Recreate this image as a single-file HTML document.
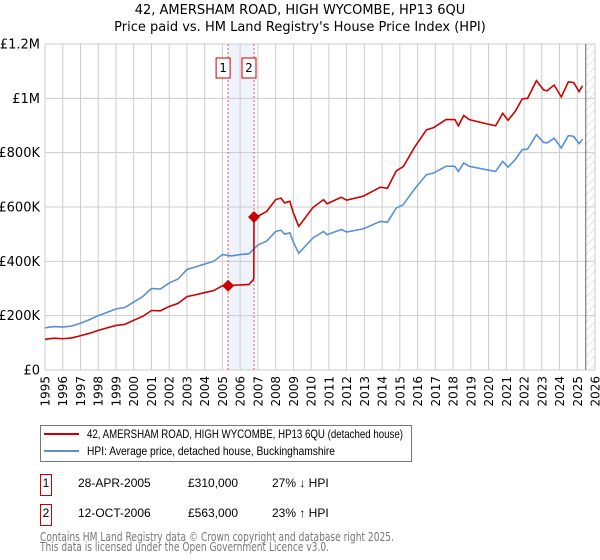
<!DOCTYPE html>
<html><head><meta charset="utf-8"><style>
body{margin:0;background:#fff;font-family:"Liberation Sans","DejaVu Sans",sans-serif;}
svg{display:block}
</style></head><body>
<svg id="c" width="600" height="560" xmlns="http://www.w3.org/2000/svg" font-family="DejaVu Sans, Liberation Sans, sans-serif"></svg>
<script>
const hpiYears=[1995,1995.5,1996,1996.5,1997,1997.5,1998,1998.5,1999,1999.5,2000,2000.5,2001,2001.5,2002,2002.5,2003,2003.5,2004,2004.5,2005,2005.5,2006,2006.5,2007,2007.5,2008,2008.3,2008.5,2008.8,2009,2009.3,2009.4,2010.1,2010.7,2010.9,2011.7,2012,2012.95,2013.9,2014.3,2014.8,2015.2,2015.8,2016.5,2016.9,2017.6,2018.1,2018.3,2018.6,2018.9,2019.9,2020.4,2020.8,2021.1,2021.5,2021.9,2022.2,2022.7,2023.1,2023.3,2023.7,2024.1,2024.5,2024.8,2025.1,2025.3];
const hpiValues=[155,160,158,162,172,185,200,212,225,230,250,270,300,298,320,335,370,380,390,400,425,420,425,428,460,475,510,515,500,505,470,430,437,486,510,498,517,508,520,547,544,596,609,664,719,725,750,750,731,762,750,737,731,768,747,774,811,813,866,838,836,853,817,863,860,833,850];
const redYears=[1995,1995.5,1996,1996.5,1997,1997.5,1998,1998.5,1999,1999.5,2000,2000.5,2001,2001.5,2002,2002.5,2003,2003.5,2004,2004.5,2005,2005.32,2005.5,2006,2006.5,2006.77,2006.78,2007,2007.5,2008,2008.3,2008.5,2008.8,2009,2009.3,2009.4,2010.1,2010.7,2010.9,2011.7,2012,2012.95,2013.9,2014.3,2014.8,2015.2,2015.8,2016.5,2016.9,2017.6,2018.1,2018.3,2018.6,2018.9,2019.9,2020.4,2020.8,2021.1,2021.5,2021.9,2022.2,2022.7,2023.1,2023.3,2023.7,2024.1,2024.5,2024.8,2025.1,2025.3];
const redValues=[113,117,115,118,126,135,146,155,164,168,183,197,219,218,234,245,270,277,285,292,310,310,312,313,315,335,563,566,584,627,633,615,621,578,529,537,598,627,612,636,625,640,673,669,733,749,817,884,892,922,922,899,937,922,906,899,945,919,952,998,1000,1065,1031,1028,1049,1005,1061,1058,1025,1046];
const saleYears=[2005.32,2006.78];
const saleValues=[310,563];
const yTicks=[0,200,400,600,800,1000,1200];
const yTickLabels=["£0","£200K","£400K","£600K","£800K","£1M","£1.2M"];
const xTicks=[1995,1996,1997,1998,1999,2000,2001,2002,2003,2004,2005,2006,2007,2008,2009,2010,2011,2012,2013,2014,2015,2016,2017,2018,2019,2020,2021,2022,2023,2024,2025,2026];

const svg=document.getElementById('c');
const NS='http://www.w3.org/2000/svg';
const L=45,R=595,T=44,B=370,dataEnd=2025.48;
const X=y=>L+(y-1995)/31*(R-L);
const Y=v=>B-v/1200*(B-T);
function mk(tag,a,p){const e=document.createElementNS(NS,tag);for(const k in a)e.setAttribute(k,a[k]);(p||svg).appendChild(e);return e;}
function tx(s,a){const e=mk('text',a);e.textContent=s;return e;}

let e;
e=tx("42, AMERSHAM ROAD, HIGH WYCOMBE, HP13 6QU",{x:300,y:14,'text-anchor':'middle','font-size':13});

e=tx("Price paid vs. HM Land Registry's House Price Index (HPI)",{x:300,y:31,'text-anchor':'middle','font-size':13});


e=mk('rect',{x:X(saleYears[0]),y:T,width:X(saleYears[1])-X(saleYears[0]),height:B-T,fill:'#eef3fc'});

const defs=mk('defs',{});
const pat=mk('pattern',{id:'h',width:6,height:6,patternUnits:'userSpaceOnUse',patternTransform:'rotate(45)'},defs);
mk('line',{x1:0,y1:0,x2:0,y2:6,stroke:'#ccc','stroke-width':1},pat);
e=mk('rect',{x:X(dataEnd),y:T,width:R-X(dataEnd),height:B-T,fill:'url(#h)'});


xTicks.forEach(t=>{e=mk('line',{x1:X(t),x2:X(t),y1:T,y2:B,stroke:'#ccc','stroke-width':1});

e=tx(String(t),{transform:`translate(${X(t)+4.5},${B+6}) rotate(-90)`,'text-anchor':'end','font-size':12});
});
yTicks.forEach((t,i)=>{e=mk('line',{x1:L,x2:R,y1:Y(t),y2:Y(t),stroke:'#ccc','stroke-width':1});

e=tx(yTickLabels[i],{x:40,y:Y(t)+4.5,'text-anchor':'end','font-size':13});
});
e=mk('line',{x1:X(dataEnd),x2:X(dataEnd),y1:T,y2:B,stroke:'#666','stroke-width':1});


saleYears.forEach((s,i)=>{e=mk('line',{x1:X(s),x2:X(s),y1:T,y2:B,stroke:'#e55','stroke-width':1,'stroke-dasharray':'2,2'});

const bx=X(s)-5;
e=mk('rect',{x:bx-7,y:58,width:14,height:20,fill:'#fff',stroke:'#c00','stroke-width':1});

e=tx(String(i+1),{x:bx,y:72,'text-anchor':'middle','font-size':12});
});

e=mk('polyline',{points:hpiYears.map((y,i)=>X(y)+','+Y(hpiValues[i])).join(' '),fill:'none',stroke:'#5b8fd4','stroke-width':1.6});

e=mk('polyline',{points:redYears.map((y,i)=>X(y)+','+Y(redValues[i])).join(' '),fill:'none',stroke:'#cc0000','stroke-width':1.6});

saleYears.forEach((s,i)=>{const cx=X(s),cy=Y(saleValues[i]);
e=mk('polygon',{points:`${cx},${cy-6} ${cx+6},${cy} ${cx},${cy+6} ${cx-6},${cy}`,fill:'#cc0000'});
});

// legend
const F='Liberation Sans, DejaVu Sans, sans-serif';
e=mk('rect',{x:40.5,y:425.5,width:371,height:36,fill:'#fff',stroke:'#777','stroke-width':1});

e=mk('line',{x1:44,x2:79,y1:434,y2:434,stroke:'#cc0000','stroke-width':2});

e=tx("42, AMERSHAM ROAD, HIGH WYCOMBE, HP13 6QU (detached house)",{x:87,y:438,'font-size':12,'font-family':F,textLength:316,lengthAdjust:'spacingAndGlyphs'});

e=mk('line',{x1:44,x2:79,y1:451,y2:451,stroke:'#5b8fd4','stroke-width':2});

e=tx("HPI: Average price, detached house, Buckinghamshire",{x:87,y:455,'font-size':12,'font-family':F,textLength:248,lengthAdjust:'spacingAndGlyphs'});


const rows=[["1","28-APR-2005","£310,000","27% ↓ HPI",487],["2","12-OCT-2006","£563,000","23% ↑ HPI",517]];
rows.forEach(r=>{const y=r[4];
e=mk('rect',{x:40.5,y:y-12.5,width:11,height:21,fill:'#fff',stroke:'#c00','stroke-width':1});

e=tx(r[0],{x:46,y:y,'text-anchor':'middle','font-size':12,'font-family':F});

e=tx(r[1],{x:78,y:y,'font-size':12,'font-family':F});

e=tx(r[2],{x:188,y:y,'font-size':12,'font-family':F});

e=tx(r[3],{x:272,y:y,'font-size':12,'font-family':F});
});
e=tx("Contains HM Land Registry data © Crown copyright and database right 2025.",{x:40,y:541,'font-size':12,fill:'#777',textLength:354,lengthAdjust:'spacingAndGlyphs'});

e=tx("This data is licensed under the Open Government Licence v3.0.",{x:40,y:551,'font-size':12,fill:'#777',textLength:289,lengthAdjust:'spacingAndGlyphs'});

</script>
</body></html>
